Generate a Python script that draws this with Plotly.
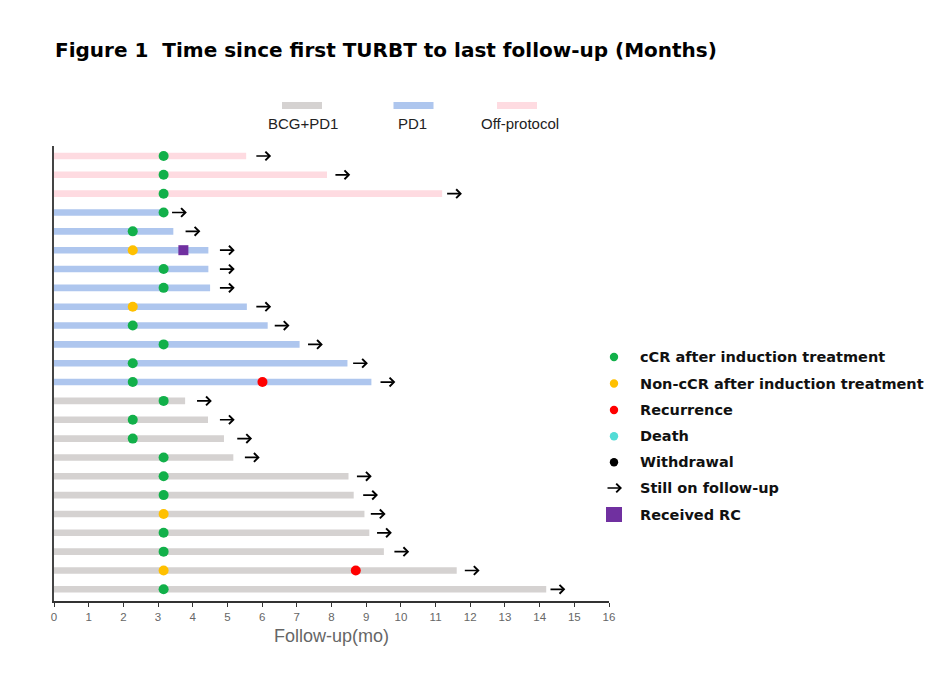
import plotly.graph_objects as go

# ---------------- data ----------------
rows = list(range(1, 25))  # top to bottom
group = ["Off-protocol"] * 3 + ["PD1"] * 10 + ["BCG+PD1"] * 11
end_time = [5.54, 7.87, 11.19, 3.15, 3.44, 4.45, 4.45, 4.50, 5.56, 6.16, 7.08, 8.46,
            9.15, 3.78, 4.44, 4.90, 5.17, 8.49, 8.64, 8.95, 9.09, 9.51, 11.61, 14.19]
resp_time = [3.16, 3.16, 3.16, 3.16, 2.27, 2.27, 3.16, 3.16, 2.27, 2.27, 3.16, 2.27,
             2.27, 3.16, 2.27, 2.27, 3.16, 3.16, 3.16, 3.16, 3.16, 3.16, 3.16, 3.16]
resp_type = ["cCR", "cCR", "cCR", "cCR", "cCR", "Non-cCR", "cCR", "cCR", "Non-cCR", "cCR",
             "cCR", "cCR", "cCR", "cCR", "cCR", "cCR", "cCR", "cCR", "cCR", "Non-cCR",
             "cCR", "cCR", "Non-cCR", "cCR"]
recur_rows = [13, 23]
recur_time = [6.01, 8.70]
rc_rows = [6]
rc_time = [3.73]
arrow_start = [5.79, 8.07, 11.29, 3.36, 3.75, 4.74, 4.74, 4.74, 5.79, 6.32, 7.28, 8.58,
               9.37, 4.08, 4.74, 5.24, 5.46, 8.69, 8.87, 9.09, 9.27, 9.77, 11.80, 14.27]
group_names = ["BCG+PD1", "PD1", "Off-protocol"]
event_legend = ["cCR after induction treatment", "Non-cCR after induction treatment",
                "Recurrence", "Death", "Withdrawal", "Still on follow-up", "Received RC"]
x_ticks = list(range(0, 17))

# ---------------- styles ----------------
GROUP_COLORS = {"BCG+PD1": "#d5d2d1", "PD1": "#aec6ee", "Off-protocol": "#fedbe1"}
EV_COLORS = {"cCR": "#12b04a", "Non-cCR": "#ffc000", "Recurrence": "#ff0000",
             "Death": "#52dcd6", "Withdrawal": "#000000", "RC": "#7030a0"}
FONT = "Liberation Sans, Arial, sans-serif"
BOLD_FONT = "DejaVu Sans, Liberation Sans, Arial, sans-serif"
ARROW_LEN = 0.47

# plot area in pixels
L, R, T, B = 54, 609, 146, 601
W, H = 936, 682


def px(xp):
    return (xp - L) / (R - L)


def py(yp):
    return (B - yp) / (B - T)


fig = go.Figure()

# bars
for g in group_names:
    idx = [i for i, gg in enumerate(group) if gg == g]
    fig.add_trace(go.Bar(
        orientation="h",
        y=[rows[i] for i in idx],
        x=[end_time[i] for i in idx],
        base=0,
        width=0.35,
        marker=dict(color=GROUP_COLORS[g], line=dict(width=0)),
        showlegend=False, hoverinfo="skip"))

# response markers
for t in ["cCR", "Non-cCR"]:
    idx = [i for i, r in enumerate(resp_type) if r == t]
    fig.add_trace(go.Scatter(
        x=[resp_time[i] for i in idx], y=[rows[i] for i in idx],
        mode="markers", marker=dict(size=10, color=EV_COLORS[t], line=dict(width=0)),
        showlegend=False))

fig.add_trace(go.Scatter(x=recur_time, y=recur_rows, mode="markers",
                         marker=dict(size=10, color=EV_COLORS["Recurrence"], line=dict(width=0)),
                         showlegend=False))
fig.add_trace(go.Scatter(x=rc_time, y=rc_rows, mode="markers",
                         marker=dict(size=10, symbol="square", color=EV_COLORS["RC"], line=dict(width=0)),
                         showlegend=False))

annotations = []
shapes = []

# follow-up arrows
for r, a in zip(rows, arrow_start):
    annotations.append(dict(
        x=a + ARROW_LEN, y=r, ax=a, ay=r, xref="x", yref="y", axref="x", ayref="y",
        text="", showarrow=True, arrowhead=4, arrowsize=1.0, arrowwidth=1.7,
        arrowcolor="#000000", standoff=0, startstandoff=0))

# title
annotations.append(dict(
    x=px(53), y=py(50), xref="paper", yref="paper", xanchor="left", yanchor="middle",
    text="<b>Figure 1  Time since first TURBT to last follow-up (Months)</b>",
    showarrow=False, font=dict(family=BOLD_FONT, size=20, color="#000000")))

# top legend (groups)
top_centers = {"BCG+PD1": (302, 303), "PD1": (413.5, 412), "Off-protocol": (517, 520)}
for g in group_names:
    sc, tc = top_centers[g]
    shapes.append(dict(type="rect", xref="paper", yref="paper",
                       x0=px(sc - 20), x1=px(sc + 20), y0=py(109), y1=py(102),
                       fillcolor=GROUP_COLORS[g], line=dict(width=0)))
    annotations.append(dict(x=px(tc), y=py(124), xref="paper", yref="paper",
                            xanchor="center", yanchor="middle", text=g, showarrow=False,
                            font=dict(family=FONT, size=15, color="#222222")))

# right legend (events)
leg_y = [357, 383.5, 410, 436.3, 462.3, 488, 514.5]
leg_sym_x = 614
leg_txt_x = 638
dot_cols = [EV_COLORS["cCR"], EV_COLORS["Non-cCR"], EV_COLORS["Recurrence"],
            EV_COLORS["Death"], EV_COLORS["Withdrawal"]]
for k, label in enumerate(event_legend):
    yy = leg_y[k]
    if k < 5:
        shapes.append(dict(type="circle", xref="paper", yref="paper",
                           xsizemode="pixel", ysizemode="pixel",
                           xanchor=px(leg_sym_x), yanchor=py(yy),
                           x0=-4.2, x1=4.2, y0=-4.2, y1=4.2,
                           fillcolor=dot_cols[k], line=dict(width=0)))
    elif k == 5:
        annotations.append(dict(x=px(622), y=py(yy), xref="paper", yref="paper",
                                ax=-16, ay=0, text="", showarrow=True, arrowhead=4,
                                arrowsize=1.0, arrowwidth=1.7, arrowcolor="#000000",
                                standoff=0, startstandoff=0))
    else:
        shapes.append(dict(type="rect", xref="paper", yref="paper",
                           xsizemode="pixel", ysizemode="pixel",
                           xanchor=px(leg_sym_x), yanchor=py(yy),
                           x0=-8, x1=8, y0=-7.5, y1=7.5,
                           fillcolor=EV_COLORS["RC"], line=dict(width=0)))
    annotations.append(dict(x=px(leg_txt_x), y=py(yy), xref="paper", yref="paper",
                            xanchor="left", yanchor="middle", text="<b>%s</b>" % label,
                            showarrow=False, font=dict(family=BOLD_FONT, size=14.5, color="#111111")))

fig.update_layout(
    width=W, height=H,
    margin=dict(l=L, r=W - R, t=T, b=H - B, pad=0),
    plot_bgcolor="white", paper_bgcolor="white",
    barmode="overlay",
    showlegend=False,
    annotations=annotations, shapes=shapes,
    font=dict(family=FONT),
    xaxis=dict(range=[0, 16], tickvals=x_ticks, ticktext=[str(v) for v in x_ticks],
               showgrid=False, zeroline=False, showline=True, linecolor="#333333",
               linewidth=1.5, ticks="outside", ticklen=4, tickwidth=1.3, tickcolor="#333333",
               tickfont=dict(family=FONT, size=11.5, color="#666666"),
               title=dict(text="Follow-up(mo)", font=dict(family=FONT, size=18, color="#666666"),
                          standoff=8)),
    yaxis=dict(range=[24.62, 0.47], showgrid=False, zeroline=False, showline=True,
               linecolor="#444444", linewidth=2, showticklabels=False, ticks=""),
)

fig.write_html("out.html")
